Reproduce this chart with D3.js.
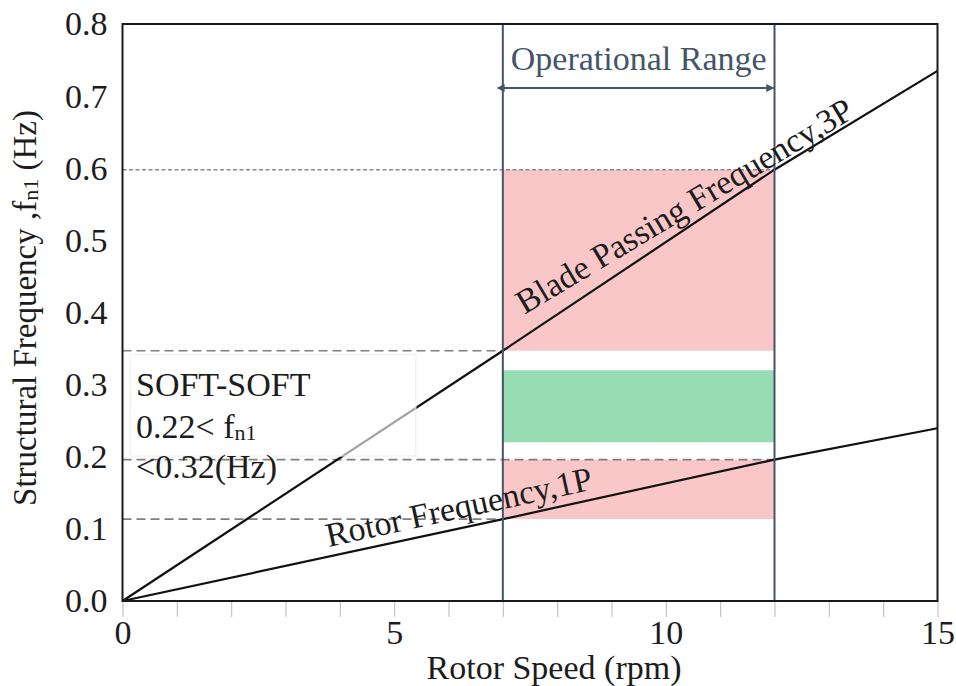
<!DOCTYPE html>
<html>
<head>
<meta charset="utf-8">
<script src="https://cdn.jsdelivr.net/npm/d3@7"></script>
<style>
  html, body { margin: 0; padding: 0; background: #fff; }
  svg { display: block; }
  text { font-family: "Liberation Serif", "Times New Roman", serif; }
</style>
</head>
<body>
<svg id="chart" width="956" height="686"></svg>
<script>
// Rotor speed (rpm) and the excitation frequencies read along it
const rotorSpeed = [0, 7, 12, 15];
const freq1P = [0, 0.1135, 0.196, 0.2395];   // rotor frequency, 1P
const freq3P = [0, 0.347, 0.598, 0.735];     // blade passing frequency, 3P

// Operational speed window (rpm)
const operationalRange = [7, 12];

// Frequency bands inside the operational window (Hz)
const band1P = [0.1135, 0.196];
const band3P = [0.347, 0.598];
const softSoftBand = [0.22, 0.32];

// Axis ticks
const xMinorTicks = d3.range(0, 16, 1);
const xTickLabels = [0, 5, 10, 15];
const yTicks = [0, 0.1, 0.2, 0.3, 0.4, 0.5, 0.6, 0.7, 0.8];

const W = 956, H = 686;
const margin = { top: 24, right: 18.5, bottom: 85, left: 122.5 };
const svg = d3.select("#chart");

const x = d3.scaleLinear().domain([0, 15]).range([margin.left, W - margin.right]);
const y = d3.scaleLinear().domain([0, 0.8]).range([H - margin.bottom, margin.top]);

const rangeColor = "#44546a";
const textColor = "#1c1c1c";
const fontSize = 34;
const serif = "'Liberation Serif', 'Times New Roman', serif";

// arrowhead marker for the operational range span
const defs = svg.append("defs");
["start", "end"].forEach(k => {
  defs.append("marker")
    .attr("id", "arrow-" + k)
    .attr("viewBox", "0 0 10 10")
    .attr("refX", k === "end" ? 9 : 1).attr("refY", 5)
    .attr("markerWidth", 9).attr("markerHeight", 8)
    .attr("markerUnits", "userSpaceOnUse")
    .attr("orient", k === "end" ? "auto" : "auto-start-reverse")
    .append("path").attr("d", "M0,0 L10,5 L0,10 z").attr("fill", rangeColor);
});

// frequency bands
const bands = [
  { lo: band3P[0], hi: band3P[1], fill: "#f9c7c7" },
  { lo: softSoftBand[0], hi: softSoftBand[1], fill: "#98dcb4" },
  { lo: band1P[0], hi: band1P[1], fill: "#f9c7c7" }
];
svg.append("g").selectAll("rect").data(bands).join("rect")
  .attr("x", x(operationalRange[0]))
  .attr("width", x(operationalRange[1]) - x(operationalRange[0]))
  .attr("y", d => y(d.hi))
  .attr("height", d => y(d.lo) - y(d.hi))
  .attr("fill", d => d.fill);

// dashed reference levels where the 1P / 3P lines meet the range limits
const refLines = [
  { v: freq3P[2], to: operationalRange[1], dash: "4,2.5", color: "#8a8a8a", w: 1.4 },
  { v: freq3P[1], to: operationalRange[0], dash: "9,5", color: "#7f7f7f", w: 1.6 },
  { v: freq1P[2], to: operationalRange[1], dash: "9,5", color: "#7f7f7f", w: 1.6 },
  { v: freq1P[1], to: operationalRange[0], dash: "9,5", color: "#7f7f7f", w: 1.6 }
];
svg.append("g").selectAll("line").data(refLines).join("line")
  .attr("x1", x(0)).attr("x2", d => x(d.to))
  .attr("y1", d => y(d.v)).attr("y2", d => y(d.v))
  .attr("stroke", d => d.color)
  .attr("stroke-width", d => d.w)
  .attr("stroke-dasharray", d => d.dash);

// excitation lines
const line = d3.line().x(d => x(d[0])).y(d => y(d[1]));
[freq3P, freq1P].forEach(f => {
  svg.append("path")
    .datum(rotorSpeed.map((r, i) => [r, f[i]]))
    .attr("d", line)
    .attr("fill", "none")
    .attr("stroke", "#111")
    .attr("stroke-width", 2.2);
});

// translucent box behind the soft-soft note
svg.append("rect")
  .attr("x", x(0.14)).attr("y", y(0.342))
  .attr("width", x(5.4) - x(0.14))
  .attr("height", y(0.201) - y(0.342))
  .attr("fill", "#fff").attr("fill-opacity", 0.62)
  .attr("stroke", "#ececec").attr("stroke-width", 1);

const note = svg.append("g").attr("fill", textColor).attr("font-size", fontSize);
note.append("text").attr("x", 136).attr("y", 396).text("SOFT-SOFT");
const n2 = note.append("text").attr("x", 136).attr("y", 438);
n2.append("tspan").text("0.22< f");
n2.append("tspan").attr("font-size", 22).attr("dy", 2).text("n1");
note.append("text").attr("x", 136).attr("y", 478).text("<0.32(Hz)");

// operational range limits
svg.append("g").selectAll("line").data(operationalRange).join("line")
  .attr("x1", d => x(d)).attr("x2", d => x(d))
  .attr("y1", y(0.8)).attr("y2", y(0))
  .attr("stroke", rangeColor).attr("stroke-width", 2);

svg.append("line")
  .attr("x1", x(operationalRange[0]) + 1).attr("x2", x(operationalRange[1]) - 1)
  .attr("y1", 88).attr("y2", 88)
  .attr("stroke", rangeColor).attr("stroke-width", 2)
  .attr("marker-start", "url(#arrow-start)")
  .attr("marker-end", "url(#arrow-end)");

svg.append("text")
  .attr("x", (x(operationalRange[0]) + x(operationalRange[1])) / 2)
  .attr("y", 70)
  .attr("text-anchor", "middle")
  .attr("font-size", fontSize)
  .attr("fill", rangeColor)
  .text("Operational Range");

// line labels, laid along their lines
function slopeAngle(f, i0, i1) {
  const dx = x(rotorSpeed[i1]) - x(rotorSpeed[i0]);
  const dy = y(f[i1]) - y(f[i0]);
  return Math.atan2(dy, dx) * 180 / Math.PI;
}
const a3 = slopeAngle(freq3P, 0, 2) + 2.6;
svg.append("text")
  .attr("transform", `translate(${x(7.4)},${y(0.397)}) rotate(${a3})`)
  .attr("font-size", fontSize).attr("fill", textColor)
  .text("Blade Passing Frequency,3P");

const a1 = slopeAngle(freq1P, 0, 2);
svg.append("text")
  .attr("transform", `translate(${x(3.79)},${y(0.075)}) rotate(${a1})`)
  .attr("font-size", fontSize).attr("fill", textColor)
  .text("Rotor Frequency,1P");

// x axis: light ticks every rpm, labels every 5
const xAxis = svg.append("g")
  .attr("transform", `translate(0,${y(0)})`)
  .call(d3.axisBottom(x).tickValues(xMinorTicks).tickSize(16).tickPadding(3)
    .tickFormat(d => xTickLabels.includes(d) ? String(d) : ""));
xAxis.select(".domain").remove();
xAxis.selectAll(".tick line").attr("stroke", "#c4c4c4").attr("stroke-width", 1.2);
xAxis.selectAll(".tick text")
  .attr("font-family", serif)
  .attr("font-size", fontSize).attr("fill", textColor);

// y axis labels
const yAxis = svg.append("g")
  .attr("transform", `translate(${x(0)},0)`)
  .call(d3.axisLeft(y).tickValues(yTicks).tickSize(0).tickPadding(15)
    .tickFormat(d3.format(".1f")));
yAxis.select(".domain").remove();
yAxis.selectAll(".tick text")
  .attr("font-family", serif)
  .attr("font-size", fontSize).attr("fill", textColor);

// plot frame
svg.append("rect")
  .attr("x", x(0)).attr("y", y(0.8))
  .attr("width", x(15) - x(0)).attr("height", y(0) - y(0.8))
  .attr("fill", "none").attr("stroke", "#1a1a1a").attr("stroke-width", 2);

// axis titles
svg.append("text")
  .attr("x", 554).attr("y", 679)
  .attr("text-anchor", "middle")
  .attr("font-size", fontSize).attr("fill", textColor)
  .text("Rotor Speed (rpm)");

const yTitle = svg.append("text")
  .attr("transform", "translate(36,308) rotate(-90)")
  .attr("text-anchor", "middle")
  .attr("font-size", 33).attr("fill", textColor);
yTitle.append("tspan").text("Structural Frequency ,f");
yTitle.append("tspan").attr("font-size", 22).attr("dy", 2).text("n1");
yTitle.append("tspan").attr("dy", -2).text(" (Hz)");
</script>
</body>
</html>
